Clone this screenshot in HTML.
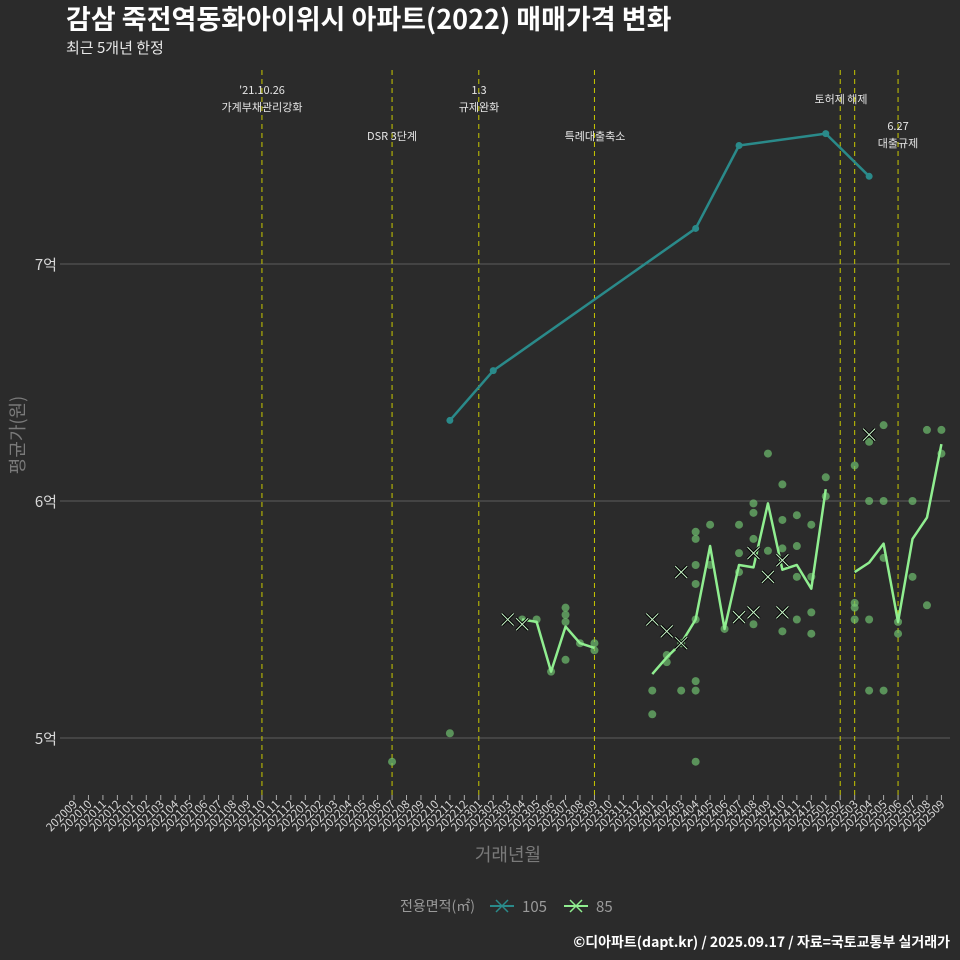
<!DOCTYPE html>
<html><head><meta charset="utf-8">
<style>
html,body{margin:0;padding:0;background:#2b2b2b;}
svg{display:block;font-family:"Noto Sans CJK KR","Liberation Sans",sans-serif;}
</style></head>
<body>
<svg id="chart" width="960" height="960" viewBox="0 0 960 960">
<rect x="0" y="0" width="960" height="960" fill="#2b2b2b"/>
<text x="66" y="29" font-size="27" font-weight="bold" fill="#ffffff">감삼 죽전역동화아이위시 아파트(2022) 매매가격 변화</text>
<text x="66" y="53" font-size="15" fill="#e8e8e8">최근 5개년 한정</text>
<g id="grid"></g>
<g id="vlines"></g>
<g id="xaxis"></g>
<g id="marks"></g>
<text x="0" y="0" transform="translate(24,435) rotate(-90)" text-anchor="middle" font-size="18" fill="#7a7a7a">평균가(원)</text>
<text x="508" y="861" text-anchor="middle" font-size="18" fill="#7a7a7a">거래년월</text>
<g>
<text x="400" y="911" font-size="14" fill="#9a9a9a">전용면적(㎡)</text>
<g>
<line x1="490" y1="906" x2="514" y2="906" stroke="#2a8a8a" stroke-width="2"/>
<line x1="496" y1="900" x2="508" y2="912" stroke="#2a8a8a" stroke-width="1.5"/>
<line x1="508" y1="900" x2="496" y2="912" stroke="#2a8a8a" stroke-width="1.5"/>
<text x="522" y="912" font-size="15" fill="#9a9a9a">105</text>
</g>
<g>
<line x1="564" y1="906" x2="588" y2="906" stroke="#90ee90" stroke-width="2"/>
<line x1="570" y1="900" x2="582" y2="912" stroke="#90ee90" stroke-width="1.5"/>
<line x1="582" y1="900" x2="570" y2="912" stroke="#90ee90" stroke-width="1.5"/>
<text x="596" y="912" font-size="15" fill="#9a9a9a">85</text>
</g>
</g>
<text x="950" y="947" text-anchor="end" font-size="14" font-weight="bold" fill="#ffffff">©디아파트(dapt.kr) / 2025.09.17 / 자료=국토교통부 실거래가</text>
</svg>
<script>
const months = [];
for (let y = 2020, m = 9; y * 100 + m <= 202509; m++) { if (m > 12) { m = 1; y++; } months.push(String(y * 100 + m)); }
const yTicks = [5, 6, 7];
const yTickLabels = ["5억", "6억", "7억"];
const line105Idx = [26, 29, 43, 46, 52, 55];
const line105Val = [6.34, 6.55, 7.15, 7.50, 7.55, 7.37];
const line85Seg1Idx = [31, 32, 33, 34, 35, 36];
const line85Seg1Val = [5.50, 5.49, 5.28, 5.47, 5.40, 5.38];
const line85Seg2Idx = [40, 41, 42, 43, 44, 45, 46, 47, 48, 49, 50, 51, 52];
const line85Seg2Val = [5.27, 5.34, 5.40, 5.50, 5.81, 5.46, 5.73, 5.72, 5.99, 5.71, 5.73, 5.63, 6.05];
const line85Seg3Idx = [54, 55, 56, 57, 58, 59, 60];
const line85Seg3Val = [5.70, 5.74, 5.82, 5.49, 5.84, 5.93, 6.24];
const pts85Idx = [22,26,31,32,33,34,34,34,34,35,36,36,40,40,41,41,42,42,43,43,43,43,43,43,43,43,44,44,45,46,46,46,47,47,47,47,48,48,49,49,49,49,50,50,50,50,51,51,51,51,52,52,54,54,54,54,55,55,55,55,56,56,56,56,57,57,58,58,59,59,60,60];
const pts85Val = [4.90,5.02,5.50,5.50,5.28,5.55,5.52,5.49,5.33,5.40,5.40,5.37,5.20,5.10,5.35,5.32,5.20,5.40,5.87,5.84,5.73,5.65,5.50,5.24,5.20,4.90,5.90,5.73,5.46,5.90,5.78,5.70,5.99,5.95,5.84,5.48,6.20,5.79,6.07,5.92,5.80,5.45,5.94,5.81,5.68,5.50,5.90,5.68,5.53,5.44,6.10,6.02,6.15,5.57,5.55,5.50,6.25,6.00,5.50,5.20,6.32,6.00,5.76,5.20,5.49,5.44,6.00,5.68,6.30,5.56,6.30,6.20];
const xMarkIdx = [30, 31, 40, 41, 42, 42, 46, 47, 47, 48, 49, 49, 55];
const xMarkVal = [5.50, 5.48, 5.50, 5.45, 5.40, 5.70, 5.51, 5.78, 5.53, 5.68, 5.75, 5.53, 6.28];
const eventIdx = [13, 22, 28, 36, 53, 54, 57];
const eventLabels = [["'21.10.26","가계부채관리강화"],["DSR 3단계"],["1.3","규제완화"],["특례대출축소"],["토허제 해제"],[],["6.27","대출규제"]];
const eventLabelY = [94, 140, 94, 140, 103, 0, 130];
const eventLabelX = [262, 392, 479, 595, 841, 0, 898];

const NS = "http://www.w3.org/2000/svg";
const X0 = 74, STEP = 14.457, Y6 = 501, PX = 237;
const xS = i => X0 + i * STEP;
const yS = v => Y6 - (v - 6) * PX;
function mk(tag, attrs, parent) { const e = document.createElementNS(NS, tag); for (const k in attrs) e.setAttribute(k, attrs[k]); parent.appendChild(e); return e; }
const grid = document.getElementById('grid'), vl = document.getElementById('vlines'), xa = document.getElementById('xaxis'), mg = document.getElementById('marks');

yTicks.forEach((t, i) => {
  const l = mk('line', {x1: 60, x2: 950, y1: yS(t), y2: yS(t), stroke: '#5e5e5e', 'stroke-width': 1}, grid);
  
  
  const tx = mk('text', {x: 57, y: yS(t) + 6, 'text-anchor': 'end', 'font-size': 15, fill: '#d8d8d8'}, grid);
  tx.textContent = yTickLabels[i];
  
  
});

months.forEach((m, i) => {
  const x = xS(i);
  const t = mk('line', {x1: x, x2: x, y1: 795, y2: 800, stroke: '#aaaaaa', 'stroke-width': 1}, xa);
  
  
  const tx = mk('text', {x: 0, y: 0, transform: `translate(${x + 4},${805}) rotate(-45)`, 'text-anchor': 'end', 'font-size': 11.5, fill: '#d8d8d8'}, xa);
  tx.textContent = m;
  
  
});

eventIdx.forEach((ei, k) => {
  const x = xS(ei);
  const l = mk('line', {x1: x, x2: x, y1: 70, y2: 797, stroke: '#c8c800', 'stroke-width': 1, 'stroke-dasharray': '5,4'}, vl);
  
  
  eventLabels[k].forEach((s, j) => {
    const tx = mk('text', {x: eventLabelX[k], y: eventLabelY[k] + j * 17, 'text-anchor': 'middle', 'font-size': 11, fill: '#e6e6e6'}, vl);
    tx.textContent = s;
    
    
  });
});

function drawLine(idx, val, color, name) {
  const p = mk('polyline', {points: idx.map((d, i) => xS(d) + ',' + yS(val[i])).join(' '), fill: 'none', stroke: color, 'stroke-width': 2.5, 'stroke-linejoin': 'round'}, mg);
  
  
}

pts85Idx.forEach((d, i) => {
  const c = mk('circle', {cx: xS(d), cy: yS(pts85Val[i]), r: 4, fill: '#6fbf6f', 'fill-opacity': 0.7}, mg);
  
  
});
drawLine(line85Seg1Idx, line85Seg1Val, '#90ee90', 'line-85-a');
drawLine(line85Seg2Idx, line85Seg2Val, '#90ee90', 'line-85-b');
drawLine(line85Seg3Idx, line85Seg3Val, '#90ee90', 'line-85-c');
drawLine(line105Idx, line105Val, '#2a8a8a', 'line-105');
line105Idx.forEach((d, i) => {
  const c = mk('circle', {cx: xS(d), cy: yS(line105Val[i]), r: 3.5, fill: '#2a8a8a'}, mg);
  
  
});
xMarkIdx.forEach((d, i) => {
  const x = xS(d), y = yS(xMarkVal[i]), s = 6;
  const g = mk('g', {}, mg);
  
  
  mk('line', {x1: x - s, y1: y - s, x2: x + s, y2: y + s, stroke: '#000', 'stroke-width': 3}, g);
  mk('line', {x1: x + s, y1: y - s, x2: x - s, y2: y + s, stroke: '#000', 'stroke-width': 3}, g);
  mk('line', {x1: x - s, y1: y - s, x2: x + s, y2: y + s, stroke: '#c8f5c8', 'stroke-width': 1}, g);
  mk('line', {x1: x + s, y1: y - s, x2: x - s, y2: y + s, stroke: '#c8f5c8', 'stroke-width': 1}, g);
});
</script>
</body></html>
